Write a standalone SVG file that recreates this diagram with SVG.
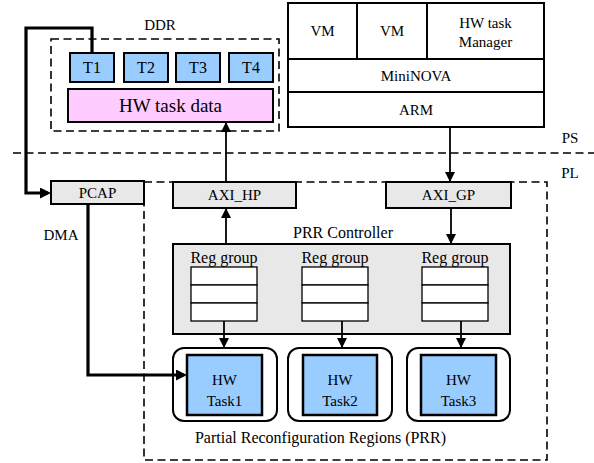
<svg xmlns="http://www.w3.org/2000/svg" width="594" height="463" viewBox="0 0 594 463">
<defs>
<style>
text{font-family:"Liberation Serif","Times New Roman",serif;font-size:15px;fill:#000;text-anchor:middle}
.box{stroke:#000;stroke-width:2;fill:#fff}
.gray{fill:#E8E8E8}
.blue{fill:#99CCFF}
.pink{fill:#FFCCFF}
.dash{fill:none;stroke:#000;stroke-width:1.6;stroke-dasharray:8 4.5}
.thin{fill:none;stroke:#000;stroke-width:1.8}
.thick{fill:none;stroke:#000;stroke-width:3.2}
.reg{fill:#fff;stroke:#000;stroke-width:1.3}
</style>
<marker id="ah" markerUnits="userSpaceOnUse" markerWidth="10" markerHeight="10" viewBox="0 0 10 10" refX="10" refY="5" orient="auto">
<path d="M0,0 L10,5 L0,10 z" fill="#000"/>
</marker>
<marker id="ahk" markerUnits="userSpaceOnUse" markerWidth="11" markerHeight="11" viewBox="0 0 10 10" refX="7" refY="5" orient="auto">
<path d="M0,0 L10,5 L0,10 z" fill="#000"/>
</marker>
</defs>
<rect width="594" height="463" fill="#fff"/>

<g id="regions">
<rect class="dash" x="51" y="39" width="228" height="92"/>
<line class="dash" x1="13" y1="153" x2="594" y2="153"/>
<rect class="dash" x="144" y="182" width="403" height="278"/>
<text x="160" y="30">DDR</text>
<text x="570" y="143">PS</text>
<text x="570" y="178">PL</text>
</g>

<g id="T1"><rect class="box blue" x="70" y="53" width="44" height="29"/><text x="92" y="73" style="font-size:16px">T1</text></g>
<g id="T2"><rect class="box blue" x="124" y="53" width="44" height="29"/><text x="146" y="73" style="font-size:16px">T2</text></g>
<g id="T3"><rect class="box blue" x="176" y="53" width="44" height="29"/><text x="198" y="73" style="font-size:16px">T3</text></g>
<g id="T4"><rect class="box blue" x="229" y="53" width="44" height="29"/><text x="251" y="73" style="font-size:16px">T4</text></g>
<g id="hwdata"><rect class="box pink" x="68" y="89" width="205" height="33"/><text x="170.5" y="112" style="font-size:19px">HW task data</text></g>

<g id="vm1"><rect class="box" x="288" y="3" width="69" height="56"/><text x="322.5" y="36">VM</text></g>
<g id="vm2"><rect class="box" x="357" y="3" width="70" height="56"/><text x="392" y="36">VM</text></g>
<g id="hwmgr"><rect class="box" x="427" y="3" width="117" height="56"/><text x="485.5" y="28">HW task</text><text x="485.5" y="47">Manager</text></g>
<g id="mininova"><rect class="box" x="288" y="59" width="256" height="33"/><text x="416" y="81">MiniNOVA</text></g>
<g id="arm"><rect class="box" x="288" y="92" width="256" height="35"/><text x="416" y="115">ARM</text></g>

<g id="pcap"><rect class="box gray" x="51" y="181" width="93" height="23"/><text x="97.5" y="198">PCAP</text></g>
<g id="axihp"><rect class="box gray" x="173" y="182" width="123" height="26"/><text x="234.5" y="200">AXI_HP</text></g>
<g id="axigp"><rect class="box gray" x="386" y="182" width="125" height="26"/><text x="448.5" y="200">AXI_GP</text></g>

<g id="prrctrl">
<text x="343" y="238" style="font-size:16px">PRR Controller</text>
<rect class="box gray" x="173" y="244" width="337" height="90"/>
</g>
<g id="reg1">
<text x="224" y="263" style="font-size:16px">Reg group</text>
<rect class="reg" x="191" y="267" width="66" height="18"/><rect class="reg" x="191" y="285" width="66" height="18"/><rect class="reg" x="191" y="303" width="66" height="18"/>
</g>
<g id="reg2">
<text x="335" y="263" style="font-size:16px">Reg group</text>
<rect class="reg" x="302" y="267" width="66" height="18"/><rect class="reg" x="302" y="285" width="66" height="18"/><rect class="reg" x="302" y="303" width="66" height="18"/>
</g>
<g id="reg3">
<text x="455" y="263" style="font-size:16px">Reg group</text>
<rect class="reg" x="422" y="267" width="66" height="18"/><rect class="reg" x="422" y="285" width="66" height="18"/><rect class="reg" x="422" y="303" width="66" height="18"/>
</g>

<g id="prr1"><rect class="box" x="173" y="348" width="104" height="73" rx="11"/><rect class="box blue" x="187" y="355" width="75" height="60" style="stroke-width:2.5"/><text x="224.5" y="385">HW</text><text x="224.5" y="406">Task1</text></g>
<g id="prr2"><rect class="box" x="288" y="348" width="104" height="73" rx="11"/><rect class="box blue" x="303" y="355" width="74" height="60" style="stroke-width:2.5"/><text x="340" y="385">HW</text><text x="340" y="406">Task2</text></g>
<g id="prr3"><rect class="box" x="407" y="348" width="103" height="73" rx="11"/><rect class="box blue" x="421" y="355" width="75" height="60" style="stroke-width:2.5"/><text x="458.5" y="385">HW</text><text x="458.5" y="406">Task3</text></g>

<text x="320.5" y="443" style="font-size:16px">Partial Reconfiguration Regions (PRR)</text>

<g id="connectors">
<polyline class="thick" points="92,53 92,28 26,28 26,193 47.7,193" marker-end="url(#ahk)"/>
<polyline class="thick" points="88,204 88,375 183.7,375" marker-end="url(#ahk)"/>
<line class="thin" x1="226" y1="182" x2="226" y2="122" marker-end="url(#ah)"/>
<line class="thin" x1="226" y1="244" x2="226" y2="208" marker-end="url(#ah)"/>
<line class="thin" x1="450" y1="127" x2="450" y2="182" marker-end="url(#ah)"/>
<line class="thin" x1="451" y1="208" x2="451" y2="244" marker-end="url(#ah)"/>
<line class="thin" x1="224" y1="321" x2="224" y2="348" marker-end="url(#ah)"/>
<line class="thin" x1="342" y1="321" x2="342" y2="348" marker-end="url(#ah)"/>
<line class="thin" x1="461" y1="321" x2="461" y2="348" marker-end="url(#ah)"/>
<text x="61" y="240">DMA</text>
</g>
</svg>
